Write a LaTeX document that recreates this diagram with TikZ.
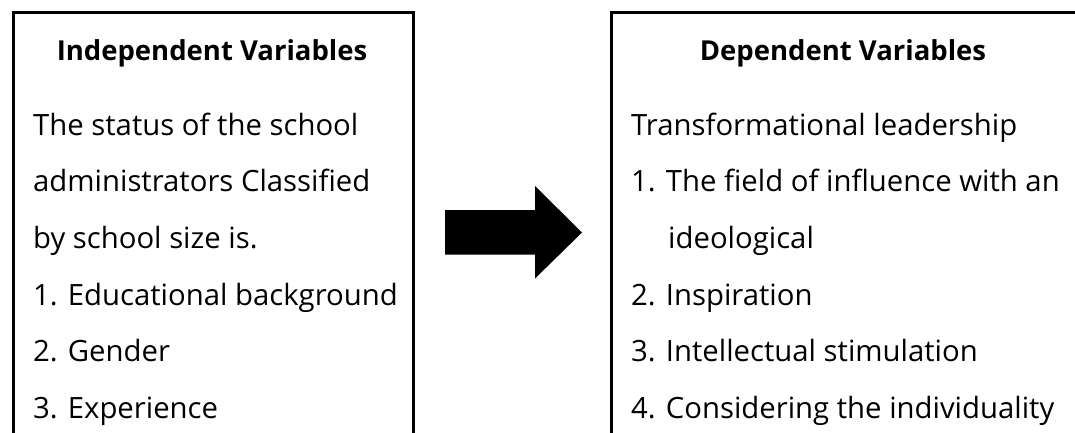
\documentclass[tikz,border=0pt]{standalone}
\usepackage{fontspec}
\setmainfont{Open Sans}
\begin{document}
\begin{tikzpicture}[x=1pt,y=-1pt]
\tikzset{
  body/.style={anchor=base west,inner sep=0pt,font=\fontsize{29.3}{34}\selectfont},
  head/.style={anchor=base,inner sep=0pt,font=\fontsize{27.5}{32}\selectfont\bfseries},
  frame/.style={draw,line width=2.6pt,anchor=north west,inner sep=0pt,minimum height=500pt},
  bigarrow/.style={fill=black}
}
\useasboundingbox (0,0) rectangle (1075,432);
\clip (0,0) rectangle (1075,432);
% boxes
\node[frame,minimum width=400pt] (L) at (12,11) {};
\node[frame,minimum width=466pt] (R) at (610,11) {};
% left text
\node[head] (lh) at (212,60) {Independent Variables};
\node[body] (l1) at (33,135) {The status of the school};
\node[body] (l2) at (33,191.7) {administrators Classified};
\node[body] (l3) at (33,248.3) {by school size is.};
\node[body] (l4) at (33,305) {1. Educational background};
\node[body] (l5) at (33,361.7) {2. Gender};
\node[body] (l6) at (33,418.3) {3. Experience};
% right text
\node[head] (rh) at (843,60) {Dependent Variables};
\node[body] (r1) at (631,135) {Transformational leadership};
\node[body] (r2) at (631,191.7) {1. The field of influence with an};
\node[body] (r3) at (668,248.3) {ideological};
\node[body] (r4) at (631,305) {2. Inspiration};
\node[body] (r5) at (631,361.7) {3. Intellectual stimulation};
\node[body] (r6) at (631,418.3) {4. Considering the individuality};
% arrow
\coordinate (tail) at (445,232.5);
\coordinate (tip) at (582,232.5);
\fill[bigarrow] (tail) ++(0,-22.5) -- ++(90,0) -- ++(0,-24) -- (tip) -- ++(-47,46) -- ++(0,-24) -- ++(-90,0) -- cycle;
\end{tikzpicture}
\end{document}
